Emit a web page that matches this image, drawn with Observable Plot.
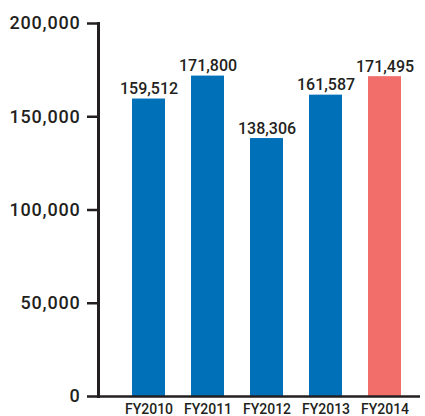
<!DOCTYPE html>
<html>
<head>
<meta charset="utf-8">
<script src="https://cdn.jsdelivr.net/npm/d3@7"></script>
<script src="https://cdn.jsdelivr.net/npm/@observablehq/plot@0.6"></script>
<style>
  html, body { margin: 0; padding: 0; background: #fff; }
  #chart svg { display: block; }
  #chart g[aria-label="y-axis tick label"] text { letter-spacing: 0.8px; }
</style>
</head>
<body>
<div id="chart"></div>
<script>
const years = ["FY2010", "FY2011", "FY2012", "FY2013", "FY2014"];
const values = [159512, 171800, 138306, 161587, 171495];
const yTicks = [0, 50000, 100000, 150000, 200000];
const highlightYear = "FY2014";

const data = years.map((year, i) => ({year, value: values[i]}));
const blue = "#0070b9";
const red = "#f26e6a";
const ink = "#231f20";
const fmt = d3.format(",");

const chart = Plot.plot({
  width: 425,
  height: 416,
  marginTop: 23,
  marginBottom: 20,
  marginLeft: 98,
  marginRight: 5,
  style: {fontFamily: "Roboto, 'Liberation Sans', Arial, sans-serif", fontWeight: 500, color: ink, background: "#fff"},
  x: {domain: years, paddingInner: 0.445, paddingOuter: 0.445, align: 0.64},
  y: {domain: [0, 200000]},
  marks: [
    Plot.barY(data, {x: "year", y: "value", fill: d => d.year === highlightYear ? red : blue}),
    Plot.text(data, {x: "year", y: "value", text: d => fmt(d.value), dy: -5, lineAnchor: "bottom", fontSize: 16, fill: ink}),
    Plot.axisY({ticks: yTicks, tickFormat: fmt, tickSize: 11, tickPadding: 7, fontSize: 18, strokeWidth: 2.5, stroke: ink, fill: ink, label: null}),
    Plot.frame({anchor: "left", stroke: ink, strokeWidth: 3}),
    Plot.axisX({tickSize: 0, tickPadding: 8, fontSize: 14, fill: ink, label: null}),
    Plot.ruleY([0], {stroke: ink, strokeWidth: 2.5})
  ]
});
document.getElementById("chart").appendChild(chart);
</script>
</body>
</html>
